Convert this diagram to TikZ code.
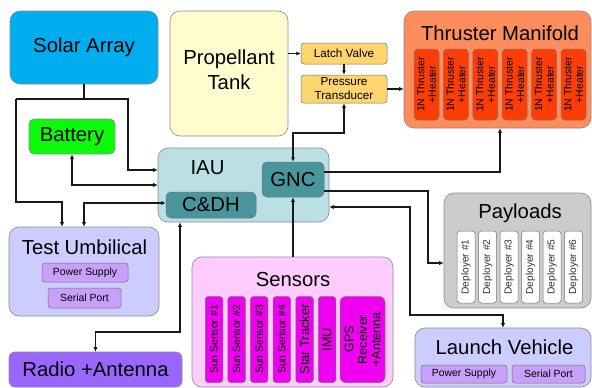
\documentclass[tikz,border=0pt]{standalone}
\usepackage{fontspec}
\setmainfont{Liberation Sans}
\usetikzlibrary{arrows.meta}

\definecolor{solarblue}{RGB}{0,174,239}
\definecolor{tankyellow}{RGB}{255,253,208}
\definecolor{valveorange}{RGB}{253,213,110}
\definecolor{manifold}{RGB}{253,141,92}
\definecolor{thrusterred}{RGB}{252,61,5}
\definecolor{batgreen}{RGB}{10,250,10}
\definecolor{iaublue}{RGB}{186,223,228}
\definecolor{tealbox}{RGB}{72,150,156}
\definecolor{umbblue}{RGB}{204,204,255}
\definecolor{umbpart}{RGB}{200,160,250}
\definecolor{radiopurple}{RGB}{153,102,255}
\definecolor{senspink}{RGB}{255,204,255}
\definecolor{sensmag}{RGB}{240,0,240}
\definecolor{paygray}{RGB}{204,204,204}

\tikzset{
  blk/.style={draw=black!45, line width=0.6pt, rounded corners=10pt, inner sep=0pt},
  part/.style={draw=black!55, line width=0.5pt, rounded corners=3pt, inner sep=0pt},
  big/.style={font=\fontsize{20.3}{25}\selectfont},
  wire/.style={line width=1.1pt, black!90},
}

\begin{document}
\begin{tikzpicture}[x=1pt,y=-1pt,>={Latex[length=4.5pt,width=4.2pt]}]
\fill[white] (0,0) rectangle (592,388);
\useasboundingbox (0,0) rectangle (592,388);

\node[blk,big,fill=solarblue,minimum width=148pt,minimum height=73pt] (solar) at (84,47.5) {Solar Array};
\node[blk,fill=tankyellow,minimum width=118pt,minimum height=125pt] (tank) at (229,73.5) {};
\node[big,align=center] (tank-text) at (229,70) {Propellant\\Tank};

\node[part,fill=valveorange,minimum width=86pt,minimum height=21pt,font=\fontsize{11.7}{14}\selectfont] (latch) at (344,53.5) {Latch Valve};
\node[part,fill=valveorange,minimum width=86pt,minimum height=28pt,align=center,font=\fontsize{11.7}{14}\selectfont] (press) at (344,89) {Pressure\\Transducer};

\node[blk,fill=manifold,minimum width=187pt,minimum height=117pt] (thr) at (497.5,69.5) {};
\node[big] (thr-title) at (500,33) {Thruster Manifold};
\foreach \i in {0,...,5}
  \node[part,fill=thrusterred,rounded corners=4pt,rotate=90,minimum width=71pt,minimum height=25pt,align=center,font=\fontsize{10.4}{11.5}\selectfont] (thr\i) at (426.5+29.4*\i,84.5) {1N Thruster\\+Heater};

\node[blk,big,fill=batgreen,rounded corners=5pt,minimum width=86pt,minimum height=35pt] (bat) at (72,136.5) {Battery};

\node[blk,fill=iaublue,minimum width=171pt,minimum height=74pt] (iau) at (243.5,185) {};
\node[big] (iau-title) at (207.5,168) {IAU};
\node[part,big,fill=tealbox,rounded corners=5pt,minimum width=62pt,minimum height=35pt] (gnc) at (293,179.5) {GNC};
\node[part,big,fill=tealbox,rounded corners=5pt,minimum width=90pt,minimum height=26pt] (cdh) at (211,205) {C\&DH};

\node[blk,fill=umbblue,minimum width=150pt,minimum height=89pt] (umb) at (84,271.5) {};
\node[big] (umb-title) at (84.5,247) {Test Umbilical};
\node[part,fill=umbpart,minimum width=86pt,minimum height=19pt,font=\fontsize{10.4}{12}\selectfont] (umb-ps) at (85,272.5) {Power Supply};
\node[part,fill=umbpart,minimum width=73pt,minimum height=20pt,font=\fontsize{10.4}{12}\selectfont] (umb-sp) at (84.5,298) {Serial Port};

\node[blk,big,fill=radiopurple,rounded corners=6pt,minimum width=173pt,minimum height=35pt] (radio) at (95.5,369.5) {Radio +Antenna};

\node[blk,fill=senspink,minimum width=201pt,minimum height=130pt] (sens) at (292.5,322) {};
\node[big] (sens-title) at (293,280) {Sensors};
\foreach \x/\n in {214/1,236.6/2,259.2/3,281.8/4}
  \node[part,fill=sensmag,rotate=90,minimum width=86pt,minimum height=17.5pt,font=\fontsize{10.4}{12}\selectfont] (sun\n) at (\x,339.5) {Sun Sensor \#\n};
\node[part,fill=sensmag,rotate=90,minimum width=86pt,minimum height=17.5pt,font=\fontsize{12.8}{14}\selectfont] (star) at (304.5,339.5) {Star Tracker};
\node[part,fill=sensmag,rotate=90,minimum width=86pt,minimum height=17.5pt,font=\fontsize{12.8}{14}\selectfont] (imu) at (327,339.5) {IMU};
\node[part,fill=sensmag,rounded corners=6pt,rotate=90,minimum width=86pt,minimum height=45pt,align=center,font=\fontsize{12.5}{13.5}\selectfont] (gps) at (362.5,339.5) {GPS\\Receiver\\+Antenna};

\node[blk,fill=paygray,minimum width=147pt,minimum height=115pt] (pay) at (517.5,250.5) {};
\node[big] (pay-title) at (520,213) {Payloads};
\foreach \i in {1,...,6}
  \node[part,fill=white,rotate=90,minimum width=72pt,minimum height=18pt,text=black!80,font=\fontsize{10.2}{12}\selectfont] (dep\i) at (466+21.5*\i-21.5,267) {Deployer \#\i};

\node[blk,fill=umbblue,minimum width=176pt,minimum height=59pt] (lv) at (503,357.5) {};
\node[big] (lv-title) at (504.5,347) {Launch Vehicle};
\node[part,fill=umbpart,minimum width=86pt,minimum height=18pt,font=\fontsize{10.4}{12}\selectfont] (lv-ps) at (464,374) {Power Supply};
\node[part,fill=umbpart,minimum width=73pt,minimum height=18pt,font=\fontsize{10.4}{12}\selectfont] (lv-sp) at (548.5,374) {Serial Port};

\draw[wire] (solar.south) |- (16,99);
\draw[wire,->] (16,99) |- (62,202) -- ([xshift=-22pt]umb.north);
\draw[wire,->] (solar.south) |- (128,99) |- (iau.west |- 0,170);
\draw[wire,<->] (bat.south) |- (iau.west);
\draw[wire,<->] (cdh.west |- 0,203) -| (umb.north);
\draw[wire,<->] (radio.north) |- (180,332) -- (iau.south -| 180,0);
\draw[wire,->] (tank.east |- latch.west) -- (latch.west);
\draw[wire,->] (latch.south) -- (press.north);
\draw[wire,->] (press.east) -- (press.east -| thr.west);
\draw[wire,<->] (press.south) |- (gnc.north |- 0,133) -- (gnc.north);
\draw[wire,->] (gnc.east |- 0,172) -| (thr.south -| 500,0);
\draw[wire,->] (gnc.east |- 0,191) -| (428,263) -- (pay.west |- 0,263);
\draw[wire,<->] (iau.east |- 0,207) -| (410,315) -| (lv.north);
\draw[wire,->] (sens.north -| gnc.south) -- (gnc.south);
\end{tikzpicture}
\end{document}
